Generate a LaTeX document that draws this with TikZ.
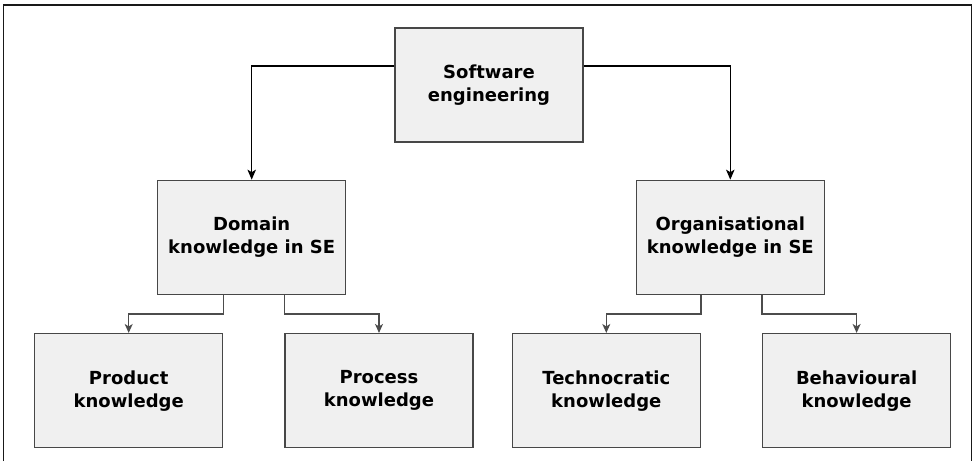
\documentclass[tikz,border=0pt]{standalone}
\usepackage{fontspec}
\setmainfont{DejaVu Sans}
\usetikzlibrary{arrows.meta,positioning}

\begin{document}
\begin{tikzpicture}[
    x=1pt, y=1pt,
    >=Stealth,
    basebox/.style={
        draw=black!72,
        line width=1.3pt,
        fill=black!6,
        align=center,
        minimum width=188pt,
        minimum height=114pt,
        inner sep=0pt,
        font=\fontsize{18}{23}\selectfont\bfseries
    },
    topbox/.style={basebox},
    midbox/.style={basebox},
    leafbox/.style={basebox},
    mainarrow/.style={->, line width=1.4pt, draw=black,
        arrows={-Stealth[length=10pt, width=8.5pt, inset=2.5pt]}},
    subarrow/.style={->, line width=1.3pt, draw=black!70,
        arrows={-Stealth[length=9pt, width=8pt, inset=2.5pt, fill=black!70]}},
    frame/.style={line width=1.4pt, draw=black!90}
]
\useasboundingbox (0,0) rectangle (974,-461);

% Frame
\draw[frame] (3.5,-461) -- (3.5,-5) -- (971.5,-5) -- (971.5,-461);

% Nodes
\node[topbox] (se) at (489,-85) {Software\\engineering};

\node[midbox, below left=37pt and 48pt of se] (domain) {Domain\\knowledge in SE};
\node[midbox, below right=37pt and 52pt of se] (org) {Organisational\\knowledge in SE};

\node[leafbox, below=38pt of domain, xshift=-123pt] (product) {Product\\knowledge};
\node[leafbox, right=61pt of product] (process) {Process\\knowledge};
\node[leafbox, right=38pt of process] (techno) {Technocratic\\knowledge};
\node[leafbox, right=61pt of techno] (behav) {Behavioural\\knowledge};

% Connections
\draw[mainarrow] ([yshift=19pt]se.west) -| (domain.north);
\draw[mainarrow] ([yshift=19pt]se.east) -| (org.north);

\draw[subarrow] (domain.south -| product.east) -- ++(0,-19pt) -| (product.north);
\draw[subarrow] (domain.south -| process.west) -- ++(0,-19pt) -| (process.north);
\draw[subarrow] (org.south -| techno.east) -- ++(0,-19pt) -| (techno.north);
\draw[subarrow] (org.south -| behav.west) -- ++(0,-19pt) -| (behav.north);

\end{tikzpicture}
\end{document}
